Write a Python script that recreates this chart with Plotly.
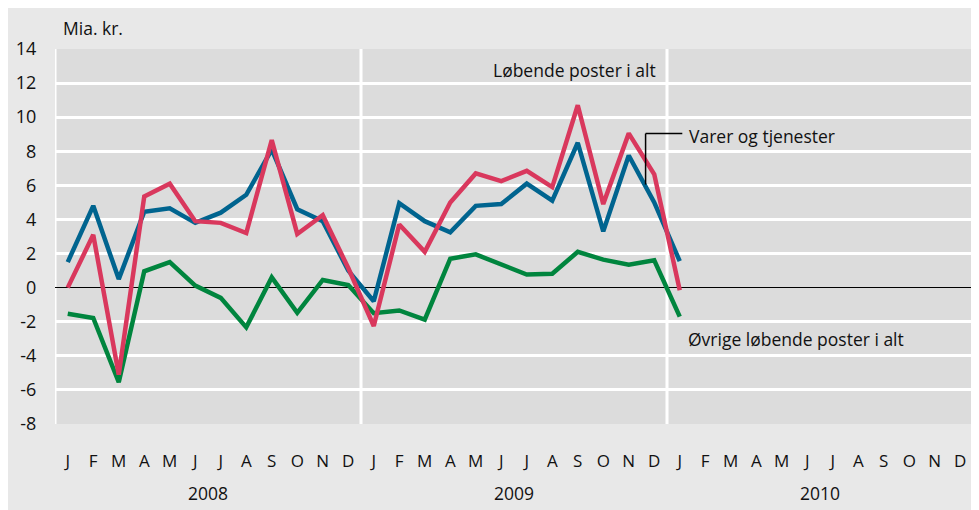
import plotly.graph_objects as go

months = ["J", "F", "M", "A", "M", "J", "J", "A", "S", "O", "N", "D"] * 3
years = ["2008", "2009", "2010"]
y_ticks = [-8, -6, -4, -2, 0, 2, 4, 6, 8, 10, 12, 14]
y_ticklabels = ["-8", "-6", "-4", "-2", "0", "2", "4", "6", "8", "10", "12", "14"]

varer = [1.5, 4.8, 0.5, 4.45, 4.65, 3.8, 4.4, 5.45, 8.1, 4.6, 3.9, 1.0,
         -0.8, 4.95, 3.9, 3.25, 4.8, 4.9, 6.1, 5.1, 8.5, 3.3, 7.75, 5.0,
         1.55]
lobende = [0.0, 3.1, -5.1, 5.35, 6.1, 3.9, 3.8, 3.2, 8.65, 3.15, 4.25, 1.15,
           -2.25, 3.7, 2.1, 5.0, 6.7, 6.25, 6.85, 5.9, 10.7, 4.9, 9.05, 6.65,
           -0.15]
ovrige = [-1.53, -1.78, -5.55, 0.96, 1.5, 0.12, -0.6, -2.33, 0.6, -1.48, 0.45, 0.15,
          -1.5, -1.34, -1.88, 1.7, 1.95, 1.35, 0.77, 0.82, 2.1, 1.64, 1.35, 1.6,
          -1.7]

x_idx = list(range(len(varer)))
BLUE = "#00648f"
RED = "#d9385d"
GREEN = "#00853e"
FONT = "Open Sans"
TXT = "#111111"

fig = go.Figure()
fig.add_trace(go.Scatter(x=x_idx, y=ovrige, mode="lines", line=dict(color=GREEN, width=4.5)))
fig.add_trace(go.Scatter(x=x_idx, y=varer, mode="lines", line=dict(color=BLUE, width=4.5)))
fig.add_trace(go.Scatter(x=x_idx, y=lobende, mode="lines", line=dict(color=RED, width=4.5)))

shapes = []
for xv in [-0.5, 11.5, 23.5, 35.5]:
    shapes.append(dict(type="line", xref="x", yref="paper", x0=xv, x1=xv, y0=0, y1=1,
                       line=dict(color="white", width=3), layer="below"))
# leader line for "Varer og tjenester"
shapes.append(dict(type="line", xref="x", yref="y", x0=22.66, x1=22.66, y0=6.05, y1=9.04,
                   line=dict(color="black", width=1.5)))
shapes.append(dict(type="line", xref="x", yref="y", x0=22.66, x1=24.1, y0=9.04, y1=9.04,
                   line=dict(color="black", width=1.5)))

AF = dict(size=17.5, color=TXT, family=FONT)
annotations = [
    dict(text="Mia. kr.", xref="paper", yref="paper", x=0.007, y=1.056, xanchor="left",
         yanchor="middle", showarrow=False, font=AF),
    dict(text="Løbende poster i alt", xref="x", yref="y", x=23.15, y=12.75, xanchor="right",
         yanchor="middle", showarrow=False, font=AF),
    dict(text="Varer og tjenester", xref="x", yref="y", x=24.28, y=8.9, xanchor="left",
         yanchor="middle", showarrow=False, font=AF),
    dict(text="Øvrige løbende poster i alt", xref="x", yref="y", x=24.25, y=-3.0, xanchor="left",
         yanchor="middle", showarrow=False, font=AF),
]
for i, yr in enumerate(years):
    annotations.append(dict(text=yr, xref="x", yref="paper", x=5.5 + 12 * i, y=-0.184,
                            xanchor="center", yanchor="middle", showarrow=False, font=AF))

fig.update_layout(
    width=979, height=510,
    margin=dict(l=47, r=14, t=41, b=94),
    paper_bgcolor="#e8e8e8",
    plot_bgcolor="#dcdcdc",
    showlegend=False,
    shapes=shapes,
    annotations=annotations,
    font=dict(family=FONT, size=17, color=TXT),
    xaxis=dict(range=[-0.5, 35.5], tickmode="array", tickvals=list(range(36)), ticktext=months,
               showgrid=False, zeroline=False, ticks="outside", ticklen=22, automargin=False,
               tickcolor="rgba(0,0,0,0)", tickfont=dict(size=17, family=FONT, color=TXT)),
    yaxis=dict(range=[-8, 14], tickmode="array", tickvals=y_ticks, ticktext=y_ticklabels,
               showgrid=True, gridcolor="white", gridwidth=3, automargin=False,
               zeroline=True, zerolinecolor="black", zerolinewidth=1,
               ticks="outside", ticklen=14, tickcolor="rgba(0,0,0,0)",
               tickfont=dict(size=18, family=FONT, color=TXT)),
)

fig.write_html("out.html")
